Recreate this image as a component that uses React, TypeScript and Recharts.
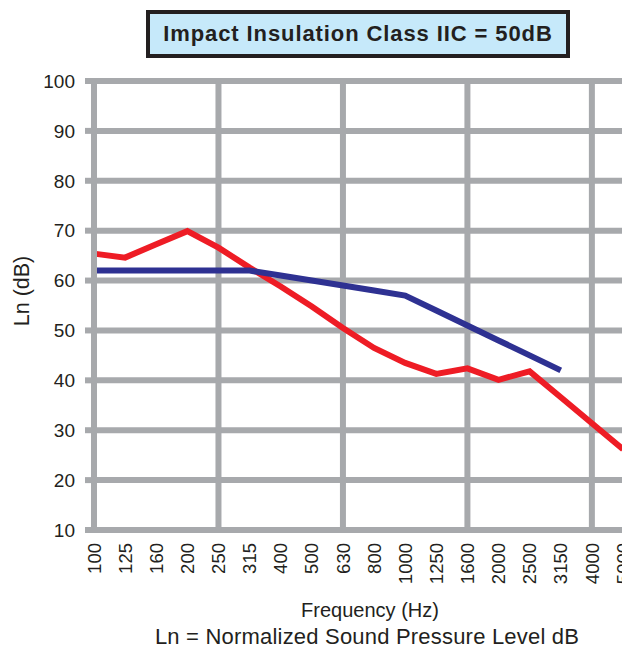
import { LineChart, Line, XAxis, YAxis, CartesianGrid, ReferenceLine } from "recharts";

const frequencies = [
  "100", "125", "160", "200", "250", "315", "400", "500", "630",
  "800", "1000", "1250", "1600", "2000", "2500", "3150", "4000", "5000",
];
const measured = [65.4, 64.6, 67.3, 69.9, 66.6, 62.6, 58.8, 54.8, 50.5, 46.5, 43.5, 41.3, 42.4, 40.1, 41.8, 36.6, 31.4, 26.2];
const contour = [62, 62, 62, 62, 62, 62, 61, 60, 59, 58, 57, 54, 51, 48, 45, 42, null, null];
const yTicks = [10, 20, 30, 40, 50, 60, 70, 80, 90, 100];
const gridFreqs = ["250", "630", "1600", "4000"];

const data = frequencies.map((freq, i) => ({ freq, measured: measured[i], contour: contour[i] }));

const INK = "#231f20";
const GRID = "#a7a9ac";
const FONT = "'Liberation Sans', Arial, Helvetica, sans-serif";

function FreqTick(props: any) {
  const { x, payload } = props;
  return (
    <g transform={`translate(${x},543)`}>
      <text transform="rotate(-90)" textAnchor="end" dy="0.36em" fontSize={18.5} fill={INK} fontFamily={FONT}>
        {payload.value}
      </text>
    </g>
  );
}

export default function App() {
  return (
    <div
      style={{
        position: "absolute",
        left: 0,
        top: 0,
        width: 622,
        height: 648,
        overflow: "hidden",
        background: "#fff",
        fontFamily: FONT,
        color: INK,
      }}
    >
      <div
        style={{
          position: "absolute",
          left: 146,
          top: 10,
          width: 424,
          height: 48,
          boxSizing: "border-box",
          border: `4px solid ${INK}`,
          background: "#c6e9fa",
          display: "flex",
          alignItems: "center",
          justifyContent: "center",
          fontWeight: "bold",
          fontSize: 22,
          letterSpacing: 0.9,
        }}
      >
        Impact Insulation Class IIC = 50dB
      </div>

      <div style={{ position: "absolute", left: 0, top: 0 }}>
        <LineChart width={640} height={648} data={data} margin={{ top: 81, right: 17, left: 0, bottom: 0 }}>
          <CartesianGrid vertical={false} stroke={GRID} strokeWidth={6} />
          {gridFreqs.map((f) => (
            <ReferenceLine key={f} x={f} stroke={GRID} strokeWidth={6} />
          ))}
          <XAxis
            dataKey="freq"
            interval={0}
            height={118}
            axisLine={false}
            tickLine={false}
            tick={<FreqTick />}
          />
          <YAxis
            width={94}
            domain={[10, 100]}
            ticks={yTicks}
            interval={0}
            axisLine={{ stroke: GRID, strokeWidth: 6 }}
            tickLine={{ stroke: GRID, strokeWidth: 6 }}
            tickSize={9}
            tickMargin={10}
            tick={{ fontSize: 19, fill: INK, fontFamily: FONT }}
          />
          <Line
            type="linear"
            dataKey="measured"
            stroke="#ee1c25"
            strokeWidth={6}
            dot={false}
            isAnimationActive={false}
          />
          <Line
            type="linear"
            dataKey="contour"
            stroke="#2e3192"
            strokeWidth={6}
            dot={false}
            isAnimationActive={false}
          />
        </LineChart>
      </div>

      <div
        style={{
          position: "absolute",
          left: 22,
          top: 291,
          transform: "translate(-50%, -50%) rotate(-90deg)",
          fontSize: 21.5,
          whiteSpace: "nowrap",
        }}
      >
        Ln (dB)
      </div>
      <div
        style={{
          position: "absolute",
          left: 370,
          top: 610,
          transform: "translate(-50%, -50%)",
          fontSize: 20,
          whiteSpace: "nowrap",
        }}
      >
        Frequency (Hz)
      </div>
      <div
        style={{
          position: "absolute",
          left: 367,
          top: 637,
          transform: "translate(-50%, -50%)",
          fontSize: 22,
          letterSpacing: 0.2,
          whiteSpace: "nowrap",
        }}
      >
        Ln = Normalized Sound Pressure Level dB
      </div>
    </div>
  );
}
